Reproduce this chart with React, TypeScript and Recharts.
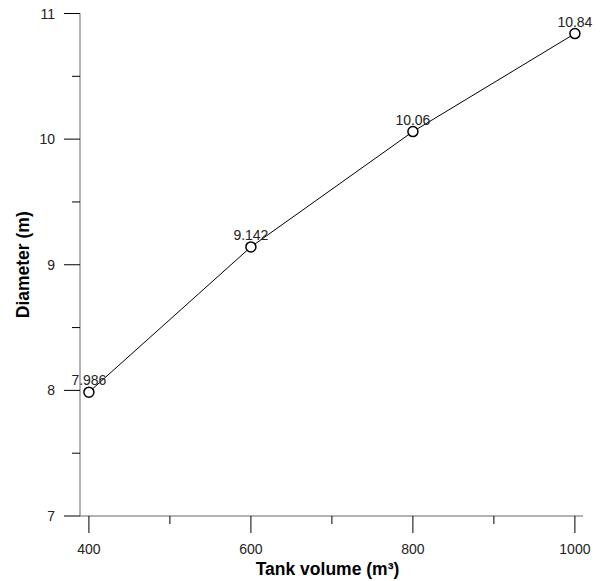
import React from "react"
import { LineChart, Line, XAxis, YAxis, LabelList } from "recharts"

const volumes = [400, 600, 800, 1000]
const diameters = [7.986, 9.142, 10.06, 10.84]
const diameterLabels = ["7.986", "9.142", "10.06", "10.84"]

const xMajor = [400, 600, 800, 1000]
const xTicks = [400, 500, 600, 700, 800, 900, 1000]
const yMajor = [7, 8, 9, 10, 11]
const yTicks = [7, 7.5, 8, 8.5, 9, 9.5, 10, 10.5, 11]

const data = volumes.map((v, i) => ({ volume: v, diameter: diameters[i], label: diameterLabels[i] }))

const font = "'Liberation Sans', Arial, sans-serif"

const XTick = ({ x, y, payload }: any) => {
  const major = xMajor.includes(payload.value)
  return (
    <g>
      <line x1={x} x2={x} y1={y} y2={y + (major ? 17 : 8)} stroke="#000" strokeWidth={1} />
      {major && (
        <text x={x} y={y + 38} textAnchor="middle" fontSize={14} fill="#222" fontFamily={font}>
          {payload.value}
        </text>
      )}
    </g>
  )
}

const YTick = ({ x, y, payload }: any) => {
  const major = yMajor.includes(payload.value)
  return (
    <g>
      <line x1={x - (major ? 16 : 8)} x2={x} y1={y} y2={y} stroke="#000" strokeWidth={1} />
      {major && (
        <text x={x - 25} y={y + 5} textAnchor="end" fontSize={14} fill="#222" fontFamily={font}>
          {payload.value}
        </text>
      )}
    </g>
  )
}

const YTitle = ({ viewBox }: any) => {
  const cx = 23
  const cy = viewBox.y + viewBox.height / 2
  return (
    <text
      x={cx}
      y={cy}
      transform={`rotate(-90 ${cx} ${cy})`}
      textAnchor="middle"
      dominantBaseline="central"
      fontSize={17.5}
      fontWeight="bold"
      fill="#000"
      fontFamily={font}
    >
      Diameter (m)
    </text>
  )
}

const XTitle = ({ viewBox }: any) => (
  <text
    x={viewBox.x + viewBox.width / 2 - 4}
    y={575}
    textAnchor="middle"
    fontSize={17.5}
    fontWeight="bold"
    fill="#000"
    fontFamily={font}
  >
    Tank volume (m³)
  </text>
)

export default function App() {
  return (
    <div style={{ position: "absolute", left: 0, top: 0, background: "#fff" }}>
      <LineChart width={600} height={581} data={data} margin={{ top: 13.5, right: 17, bottom: 0, left: 0 }}>
        <XAxis
          dataKey="volume"
          type="number"
          domain={[389, 1010]}
          ticks={xTicks}
          interval={0}
          tickSize={0}
          tickMargin={0}
          tickLine={false}
          tick={<XTick />}
          axisLine={{ stroke: "#666", strokeWidth: 1 }}
          height={65}
          allowDataOverflow
          label={<XTitle />}
        />
        <YAxis
          type="number"
          domain={[7, 11]}
          ticks={yTicks}
          interval={0}
          tickSize={0}
          tickMargin={0}
          tickLine={false}
          tick={<YTick />}
          axisLine={{ stroke: "#666", strokeWidth: 1 }}
          width={80}
          allowDataOverflow
          label={<YTitle />}
        />
        <Line
          dataKey="diameter"
          stroke="#000"
          strokeWidth={1}
          isAnimationActive={false}
          dot={{ r: 5, stroke: "#000", strokeWidth: 1.5, fill: "#fff" }}
        >
          <LabelList dataKey="label" position="top" offset={7} fontSize={14} fill="#222" fontFamily={font} />
        </Line>
      </LineChart>
    </div>
  )
}
